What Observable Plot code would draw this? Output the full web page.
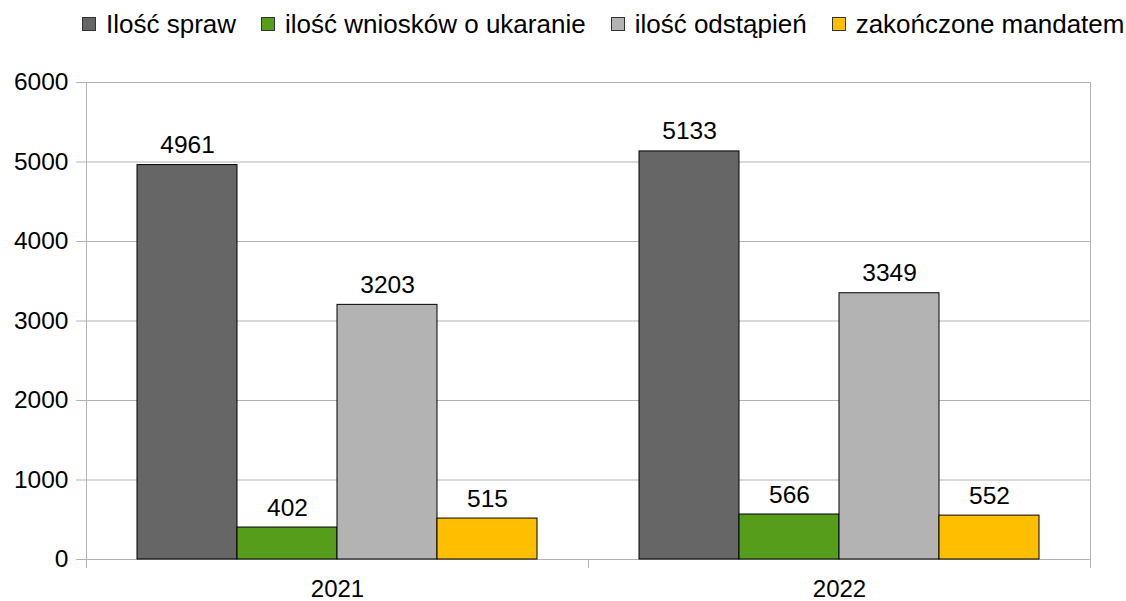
<!DOCTYPE html>
<html><head><meta charset="utf-8">
<script src="https://cdn.jsdelivr.net/npm/d3@7"></script>
<script src="https://cdn.jsdelivr.net/npm/@observablehq/plot@0.6"></script>
<style>
body{margin:0;background:#fff;font-family:"Liberation Sans",Arial,sans-serif;}
#legend{height:44px;display:flex;align-items:center;padding-top:4px;padding-left:82px;box-sizing:border-box;font-size:26px;color:#000;white-space:nowrap}
.item{display:flex;align-items:center;margin-right:25px}
.sw{width:12px;height:12px;border:1px solid #333;margin-right:10px;flex:none}
</style></head><body>
<div id="legend"></div><div id="chart"></div>
<script>
const years = ["2021", "2022"];
const series = ["Ilość spraw", "ilość wniosków o ukaranie", "ilość odstąpień", "zakończone mandatem"];
const values2021 = [4961, 402, 3203, 515];
const values2022 = [5133, 566, 3349, 552];
const colors = ["#666666", "#579d1c", "#b3b3b3", "#ffbf00"];
const yTicks = [0, 1000, 2000, 3000, 4000, 5000, 6000];

const valuesByYear = [values2021, values2022];
const data = [];
years.forEach((yr, i) => series.forEach((s, j) => data.push({year: yr, series: s, value: valuesByYear[i][j]})));

// legend
const legend = d3.select("#legend");
series.forEach((s, j) => {
  const it = legend.append("div").attr("class", "item");
  it.append("div").attr("class", "sw").style("background", colors[j]);
  it.append("span").text(s);
});

const plot = Plot.plot({
  width: 1126, height: 557,
  marginTop: 38, marginBottom: 42, marginLeft: 85, marginRight: 36,
  style: {fontFamily: "'Liberation Sans', Arial, sans-serif", fontSize: "24px", color: "#000", background: "#fff"},
  fx: {domain: years, padding: 0, label: null},
  x: {domain: series, paddingInner: 0, paddingOuter: 0.5, axis: null},
  y: {domain: [0, 6000], label: null},
  color: {domain: series, range: colors},
  marks: [
    Plot.gridY(yTicks, {stroke: "#b3b3b3", strokeOpacity: 1}),
    Plot.barY(data, {fx: "year", x: "series", y: "value", fill: "series", stroke: "#000", strokeWidth: 1}),
    Plot.text(data, {fx: "year", x: "series", y: "value", text: d => String(d.value), dy: -12, lineAnchor: "bottom", fontSize: 24.5, fill: "#000"}),
    Plot.axisY(yTicks, {tickSize: 10, tickPadding: 8, stroke: "#b3b3b3", fill: "#000", fontSize: 24.5, label: null, tickFormat: "d"}),
    Plot.axisFx({anchor: "bottom", tickSize: 0, tickPadding: 20, fontSize: 24, label: null})
  ]
});
document.getElementById("chart").appendChild(plot);

// vertical axis lines at group boundaries, derived from Plot's scales
const fx = plot.scale("fx"), y = plot.scale("y");
const bw = fx.bandwidth != null ? fx.bandwidth : fx.step;
const edges = years.map(yr => fx.apply(yr)).concat([fx.apply(years[years.length - 1]) + bw]);
const y0 = y.apply(0), yTop = y.apply(yTicks[yTicks.length - 1]);
const g = d3.select(plot).append("g").attr("stroke", "#b3b3b3").attr("stroke-width", 1);
edges.forEach((xp, i) => {
  const outer = i === 0 || i === edges.length - 1;
  const xx = Math.round(xp) + 0.5;
  g.append("line").attr("x1", xx).attr("x2", xx).attr("y1", outer ? yTop : y0).attr("y2", y0 + 9);
});
</script>
</body></html>
